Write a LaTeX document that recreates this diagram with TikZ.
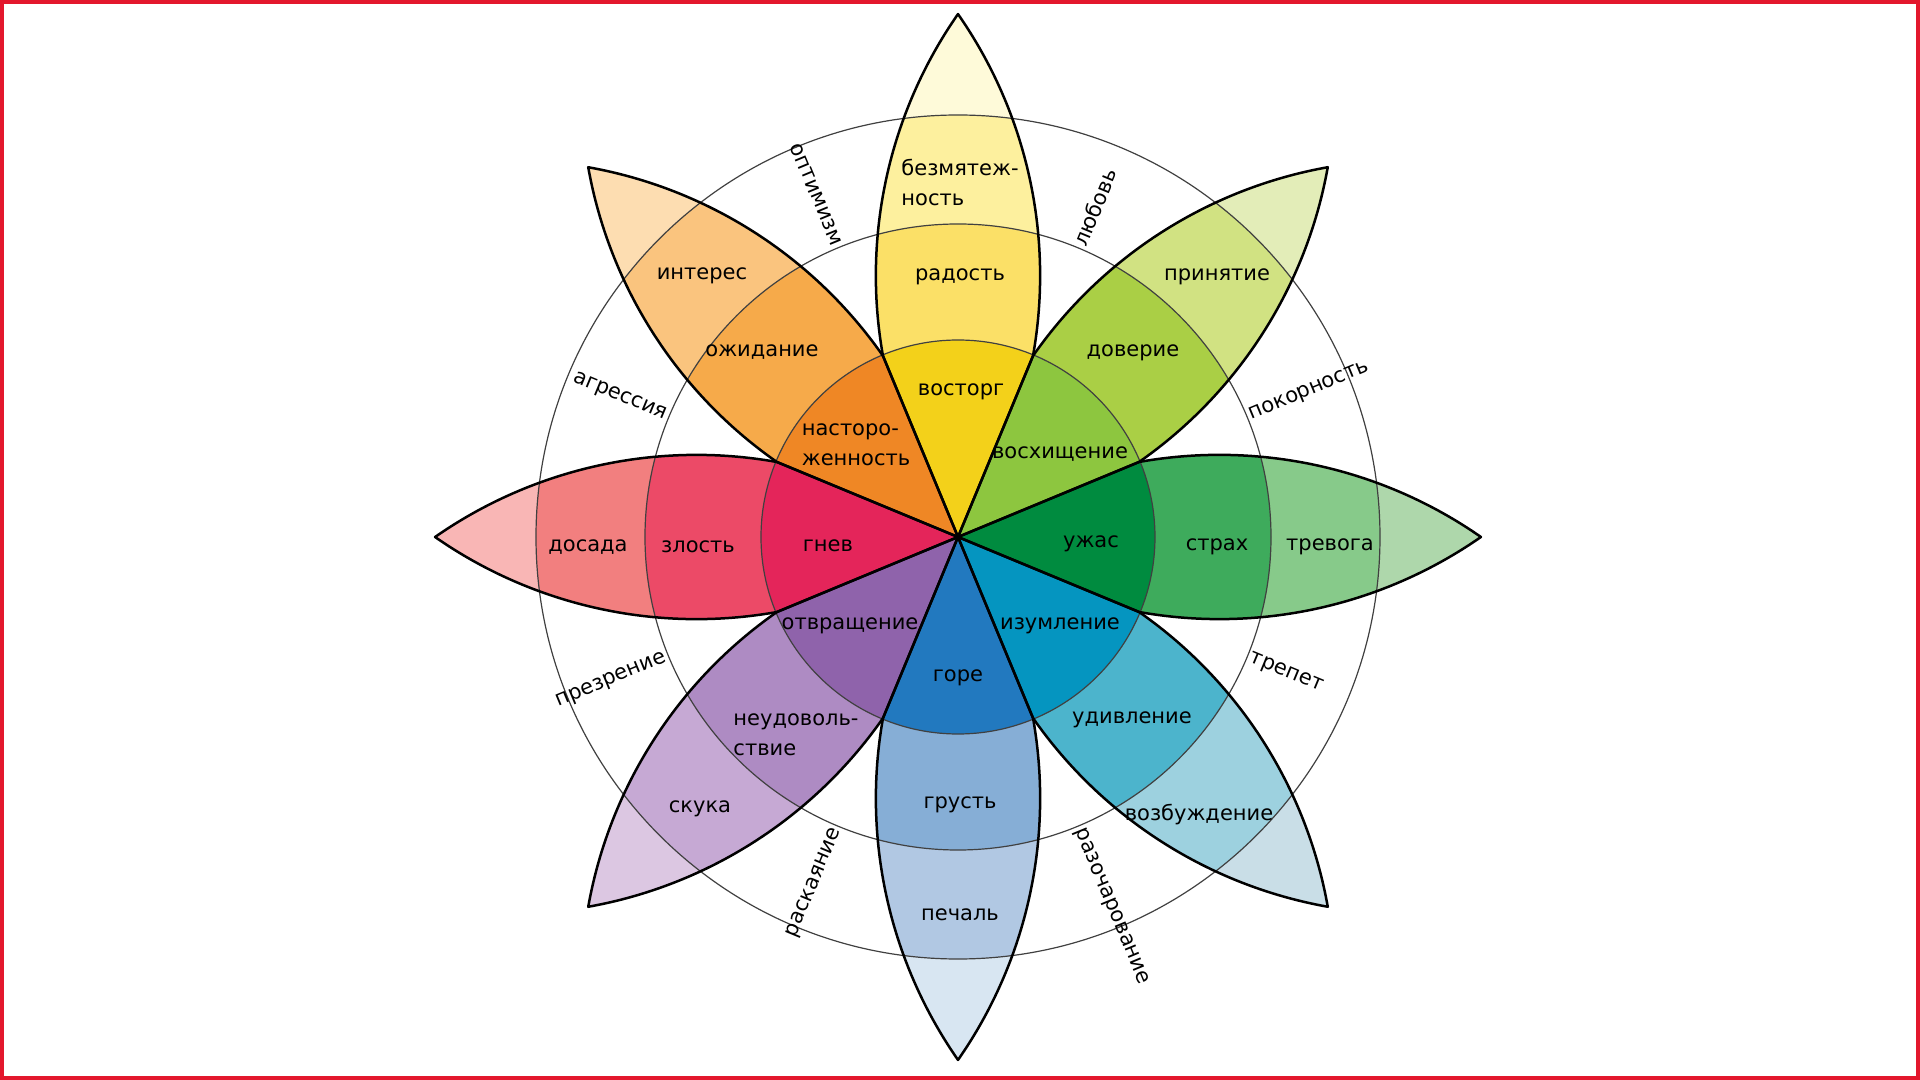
\documentclass[tikz,border=0pt]{standalone}
\usepackage{fontspec}
\setmainfont{DejaVu Sans}
\usepackage{tikz}

\definecolor{framered}{HTML}{E3172D}
\definecolor{joyA}{HTML}{F3D11A}
\definecolor{joyB}{HTML}{FBE067}
\definecolor{joyC}{HTML}{FDF09E}
\definecolor{joyD}{HTML}{FEFAD9}
\definecolor{truA}{HTML}{8DC63F}
\definecolor{truB}{HTML}{AACF45}
\definecolor{truC}{HTML}{D1E282}
\definecolor{truD}{HTML}{E3EDB8}
\definecolor{feaA}{HTML}{008B3F}
\definecolor{feaB}{HTML}{3EAB5C}
\definecolor{feaC}{HTML}{87CA8A}
\definecolor{feaD}{HTML}{AED7AB}
\definecolor{surA}{HTML}{0595C0}
\definecolor{surB}{HTML}{4CB4CC}
\definecolor{surC}{HTML}{9DD1DF}
\definecolor{surD}{HTML}{C9DEE7}
\definecolor{sadA}{HTML}{2279BF}
\definecolor{sadB}{HTML}{86AED6}
\definecolor{sadC}{HTML}{B1C8E3}
\definecolor{sadD}{HTML}{D8E6F2}
\definecolor{disA}{HTML}{8F63AB}
\definecolor{disB}{HTML}{AE8BC3}
\definecolor{disC}{HTML}{C6A9D4}
\definecolor{disD}{HTML}{DCC7E2}
\definecolor{angA}{HTML}{E4255A}
\definecolor{angB}{HTML}{EC4A67}
\definecolor{angC}{HTML}{F27F7F}
\definecolor{angD}{HTML}{F9B6B5}
\definecolor{antA}{HTML}{EF8725}
\definecolor{antB}{HTML}{F6AA4A}
\definecolor{antC}{HTML}{FAC47E}
\definecolor{antD}{HTML}{FDDDB1}

% rotation, inner, middle, outer, tip colour
\newcommand{\drawpetal}[5]{%
  \begin{scope}[rotate=#1]
    \clip (0, 0) -- (67.5:196) arc[start angle=-10.12, end angle=34.87, radius=457.4]
      arc[start angle=145.13, end angle=190.12, radius=457.4] -- cycle;
    \fill[#5] (0, 0) circle (540);
    \fill[#4] (0, 0) circle (422);
    \fill[#3] (0, 0) circle (313);
    \fill[#2] (0, 0) circle (197);
  \end{scope}}
\newcommand{\petaledge}[1]{%
  \draw[petalline, rotate=#1] (0, 0) -- (67.5:196)
    arc[start angle=-10.12, end angle=34.87, radius=457.4]
    arc[start angle=145.13, end angle=190.12, radius=457.4] -- cycle;}

\begin{document}
\begin{tikzpicture}[x=0.5pt, y=0.5pt,
    emo/.style={font=\fontsize{10.5}{15}\selectfont, inner sep=1pt},
    emotwo/.style={emo, align=left},
    dyad/.style={font=\fontsize{10.5}{13}\selectfont, inner sep=2pt},
    ringline/.style={draw=black!75, line width=0.6pt},
    petalline/.style={draw=black, line width=1.25pt, line join=round},
    redframe/.style={draw=framered, line width=2pt}]
    \useasboundingbox (-958, -543) rectangle (962, 537);

    % petals
    \drawpetal{0}{joyA}{joyB}{joyC}{joyD}
    \drawpetal{-45}{truA}{truB}{truC}{truD}
    \drawpetal{-90}{feaA}{feaB}{feaC}{feaD}
    \drawpetal{-135}{surA}{surB}{surC}{surD}
    \drawpetal{180}{sadA}{sadB}{sadC}{sadD}
    \drawpetal{135}{disA}{disB}{disC}{disD}
    \drawpetal{90}{angA}{angB}{angC}{angD}
    \drawpetal{45}{antA}{antB}{antC}{antD}

    % rings
    \draw[ringline] (0, 0) circle (197);
    \draw[ringline] (0, 0) circle (313);
    \draw[ringline] (0, 0) circle (422);

    \petaledge{0}
    \petaledge{-45}
    \petaledge{-90}
    \petaledge{-135}
    \petaledge{180}
    \petaledge{135}
    \petaledge{90}
    \petaledge{45}

    % primary emotions
    \node[emo] (joy1) at (3, 145) {восторг};
    \node[emo] (joy2) at (2, 260) {радость};
    \node[emotwo] (joy3) at (2, 354) {безмятеж-\\ность};

    \node[emo] (tru1) at (102, 83) {восхищение};
    \node[emo] (tru2) at (175, 184) {доверие};
    \node[emo] (tru3) at (259, 260) {принятие};

    \node[emo] (fea1) at (133, -7) {ужас};
    \node[emo] (fea2) at (259, -10) {страх};
    \node[emo] (fea3) at (372, -10) {тревога};

    \node[emo] (sur1) at (102, -89) {изумление};
    \node[emo] (sur2) at (174, -183) {удивление};
    \node[emo] (sur3) at (241, -278) {возбуждение};

    \node[emo] (sad1) at (0, -141) {горе};
    \node[emo] (sad2) at (2, -268) {грусть};
    \node[emo] (sad3) at (2, -378) {печаль};

    \node[emo] (dis1) at (-108, -89) {отвращение};
    \node[emotwo] (dis2) at (-162, -198) {неудоволь-\\ствие};
    \node[emo] (dis3) at (-258, -272) {скука};

    \node[emo] (ang1) at (-130, -9) {гнев};
    \node[emo] (ang2) at (-260, -10) {злость};
    \node[emo] (ang3) at (-370, -10) {досада};

    \node[emotwo] (ant1) at (-102, 92) {насторо-\\женность};
    \node[emo] (ant2) at (-196, 185) {ожидание};
    \node[emo] (ant3) at (-256, 261) {интерес};

    % dyads
    \node[dyad, anchor=west, rotate=67.5] (love) at (67.5:312) {любовь};
    \node[dyad, anchor=west, rotate=22.5] (submis) at (22.5:312) {покорность};
    \node[dyad, anchor=west, rotate=-22.5] (awe) at (-22.5:312) {трепет};
    \node[dyad, anchor=west, rotate=-67.5] (disap) at (-67.5:312) {разочарование};
    \node[dyad, anchor=east, rotate=67.5] (remorse) at (247.5:312) {раскаяние};
    \node[dyad, anchor=east, rotate=22.5] (contempt) at (202.5:312) {презрение};
    \node[dyad, anchor=east, rotate=-22.5] (aggr) at (157.5:312) {агрессия};
    \node[dyad, anchor=east, rotate=-67.5] (optim) at (112.5:312) {оптимизм};

    \draw[redframe] (-956, -541) rectangle (960, 535);
\end{tikzpicture}
\end{document}
